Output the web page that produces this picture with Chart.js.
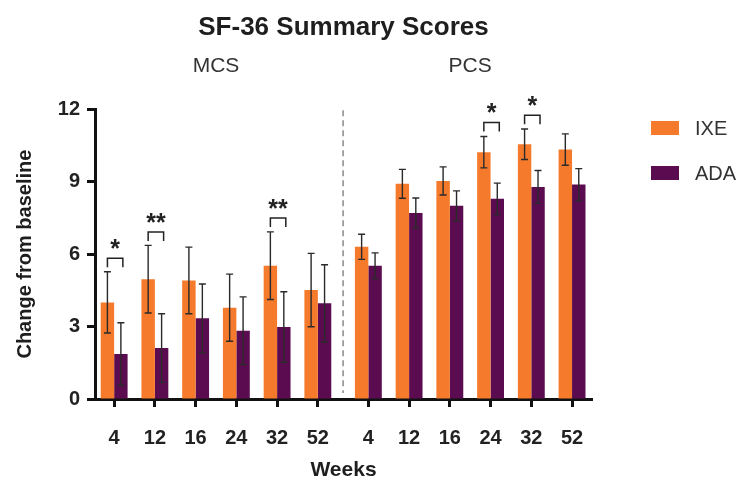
<!DOCTYPE html>
<html>
<head>
<meta charset="utf-8">
<script src="https://cdn.jsdelivr.net/npm/chart.js@4.4.1/dist/chart.umd.min.js"></script>
<style>
  body { margin: 0; background: #fff; }
</style>
</head>
<body>
<canvas id="chart" width="744" height="481"></canvas>
<script>
// weeks for the two panels (MCS first, then PCS)
const groups = ['MCS', 'PCS']
const weeks = ['4', '12', '16', '24', '32', '52', '4', '12', '16', '24', '32', '52']

const ixe = [4.0, 4.96, 4.91, 3.78, 5.52, 4.51, 6.30, 8.91, 9.03, 10.22, 10.55, 10.33]
const ixeErr = [1.27, 1.40, 1.38, 1.39, 1.40, 1.52, 0.52, 0.60, 0.58, 0.65, 0.63, 0.65]
const ada = [1.86, 2.11, 3.34, 2.83, 2.98, 3.96, 5.52, 7.70, 8.00, 8.29, 8.78, 8.88]
const adaErr = [1.30, 1.42, 1.42, 1.40, 1.46, 1.60, 0.53, 0.62, 0.62, 0.65, 0.68, 0.66]

// significance brackets: which week, label, bracket height (in score units)
const sigIndex = [0, 1, 4, 9, 10]
const sigLabel = ['*', '**', '**', '*', '*']
const sigLevel = [5.83, 6.92, 7.50, 11.45, 11.75]

const yTicks = [0, 3, 6, 9, 12]

const ORANGE = '#F67A2C'
const PURPLE = '#5B0C50'
const FONT = '"Liberation Sans", Arial, Helvetica, sans-serif'
const GAP = 0.24 // extra space between MCS and PCS panels

const perGroup = weeks.length / groups.length
const xPos = (i) => i < perGroup ? i : i + GAP

const extras = {
  id: 'extras',
  afterDatasetsDraw (chart) {
    const { ctx, scales: { x, y } } = chart
    const metaA = chart.getDatasetMeta(0)
    const metaB = chart.getDatasetMeta(1)

    ctx.save()
    // error bars
    ctx.strokeStyle = '#2a2a2a'
    ctx.lineWidth = 1.4
    const errs = [ixeErr, adaErr]
    const vals = [ixe, ada]
    ;[metaA, metaB].forEach((meta, d) => {
      meta.data.forEach((bar, i) => {
        const top = y.getPixelForValue(vals[d][i] + errs[d][i])
        const bot = y.getPixelForValue(vals[d][i] - errs[d][i])
        ctx.beginPath()
        ctx.moveTo(bar.x, top)
        ctx.lineTo(bar.x, bot)
        ctx.moveTo(bar.x - 3.5, top)
        ctx.lineTo(bar.x + 3.5, top)
        ctx.moveTo(bar.x - 3.5, bot)
        ctx.lineTo(bar.x + 3.5, bot)
        ctx.stroke()
      })
    })

    // significance brackets + stars
    ctx.strokeStyle = '#222'
    ctx.fillStyle = '#222'
    ctx.lineWidth = 1.5
    ctx.font = 'bold 25px ' + FONT
    ctx.textAlign = 'center'
    ctx.textBaseline = 'alphabetic'
    sigIndex.forEach((idx, k) => {
      const x1 = metaA.data[idx].x
      const x2 = metaB.data[idx].x + 2
      const top = y.getPixelForValue(sigLevel[k])
      ctx.beginPath()
      ctx.moveTo(x1, top + 9)
      ctx.lineTo(x1, top)
      ctx.lineTo(x2, top)
      ctx.lineTo(x2, top + 9)
      ctx.stroke()
      ctx.fillText(sigLabel[k], (x1 + x2) / 2, top - 1)
    })

    // dashed separator between panels
    const sep = x.getPixelForValue((xPos(perGroup - 1) + xPos(perGroup)) / 2)
    ctx.strokeStyle = '#8a8a8a'
    ctx.lineWidth = 1.5
    ctx.setLineDash([6, 4])
    ctx.beginPath()
    ctx.moveTo(sep, y.getPixelForValue(12) + 1)
    ctx.lineTo(sep, y.getPixelForValue(0) - 6)
    ctx.stroke()
    ctx.setLineDash([])

    // panel labels
    ctx.fillStyle = '#333'
    ctx.font = '21px ' + FONT
    ctx.textBaseline = 'middle'
    groups.forEach((g, k) => {
      const a = x.getPixelForValue(xPos(k * perGroup))
      const b = x.getPixelForValue(xPos(k * perGroup + perGroup - 1))
      ctx.fillText(g, (a + b) / 2, 66)
    })

    // legend
    ctx.textAlign = 'left'
    ctx.font = '20px ' + FONT
    chart.data.datasets.forEach((ds, k) => {
      const cy = 128 + k * 45
      ctx.fillStyle = ds.backgroundColor
      ctx.fillRect(651, cy - 7, 28, 14)
      ctx.fillStyle = '#333'
      ctx.fillText(ds.label, 695, cy + 1)
    })
    ctx.restore()
  }
}

new Chart(document.getElementById('chart'), {
  type: 'bar',
  data: {
    datasets: [
      { label: 'IXE', data: ixe.map((v, i) => ({ x: xPos(i), y: v })), backgroundColor: ORANGE },
      { label: 'ADA', data: ada.map((v, i) => ({ x: xPos(i), y: v })), backgroundColor: PURPLE }
    ]
  },
  options: {
    responsive: false,
    animation: false,
    categoryPercentage: 0.66,
    barPercentage: 1.0,
    layout: { padding: { left: 0, right: 152, top: 0, bottom: 0 } },
    plugins: {
      legend: { display: false },
      tooltip: { enabled: false },
      title: {
        display: true,
        fullSize: false,
        text: 'SF-36 Summary Scores',
        color: '#1e1e1e',
        font: { family: FONT, size: 26, weight: 'bold' },
        padding: { top: 12, bottom: 66 }
      }
    },
    scales: {
      x: {
        type: 'linear',
        min: -0.47,
        max: xPos(weeks.length - 1) + 0.49,
        offset: false,
        afterFit: (s) => { s.height = 82 },
        afterBuildTicks: (s) => { s.ticks = weeks.map((w, i) => ({ value: xPos(i) })) },
        ticks: {
          callback: (v, i) => weeks[i],
          color: '#222',
          font: { family: FONT, size: 20, weight: 'bold' },
          padding: 19,
          maxRotation: 0,
          autoSkip: false
        },
        grid: { offset: false, drawOnChartArea: false, drawTicks: true, tickLength: 8, tickWidth: 3, tickColor: '#111' },
        border: { display: true, color: '#111', width: 3 },
        title: {
          display: true,
          text: 'Weeks',
          color: '#1e1e1e',
          font: { family: FONT, size: 21, weight: 'bold', lineHeight: 1 },
          padding: { top: 0, bottom: 0 }
        }
      },
      y: {
        min: 0,
        max: 12,
        afterFit: (s) => { s.width = 95 },
        afterBuildTicks: (s) => { s.ticks = yTicks.map((v) => ({ value: v })) },
        ticks: {
          color: '#222',
          font: { family: FONT, size: 20, weight: 'bold' },
          padding: 7
        },
        grid: { drawOnChartArea: false, drawTicks: true, tickLength: 8, tickWidth: 3, tickColor: '#111' },
        border: { display: true, color: '#111', width: 3 },
        title: {
          display: true,
          text: 'Change from baseline',
          color: '#1e1e1e',
          font: { family: FONT, size: 20, weight: 'bold', lineHeight: 1.2 },
          padding: { top: 13, bottom: 0 }
        }
      }
    }
  },
  plugins: [extras]
})
</script>
</body>
</html>
